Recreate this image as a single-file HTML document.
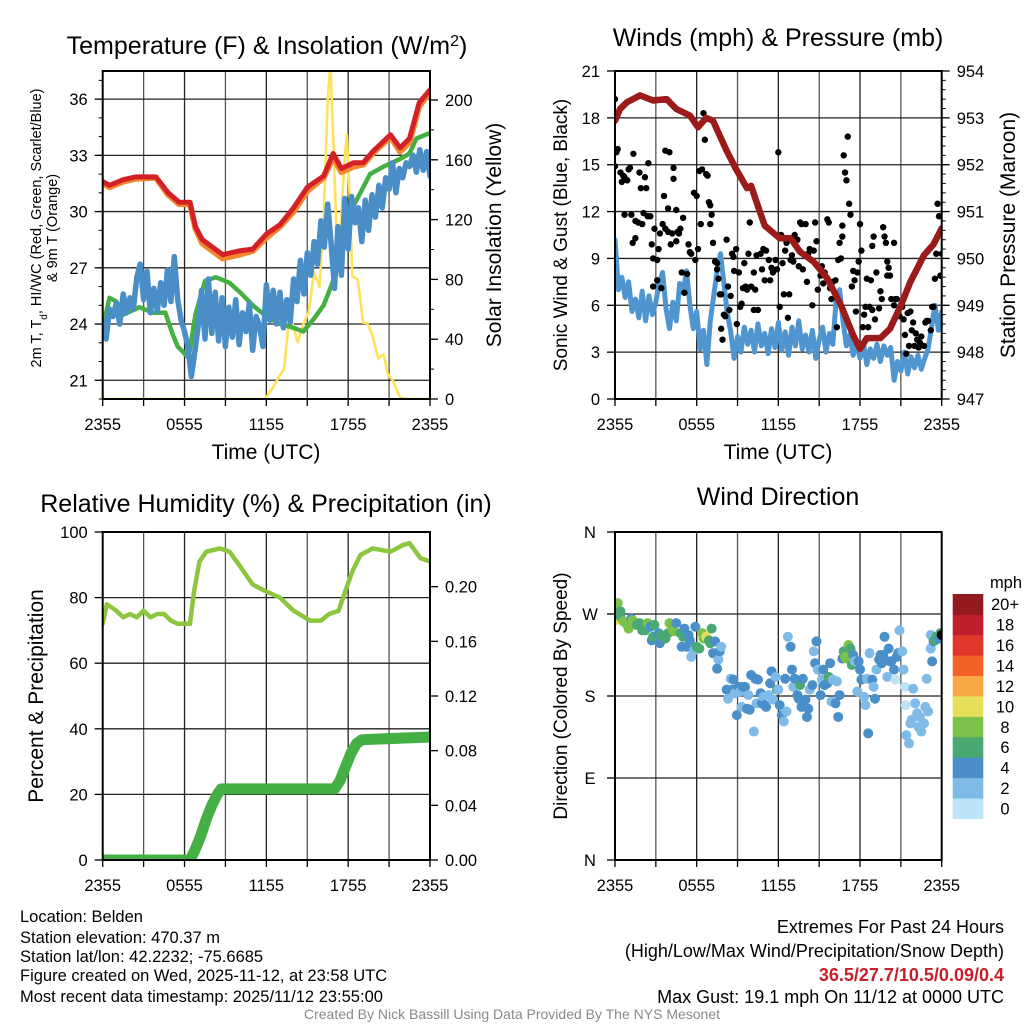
<!DOCTYPE html>
<html><head><meta charset="utf-8"><style>
html,body{margin:0;padding:0;background:#fff;}
svg{display:block;font-family:"Liberation Sans",Arial,sans-serif;}
</style></head><body>
<svg id="chart" width="1024" height="1024" viewBox="0 0 1024 1024" xmlns="http://www.w3.org/2000/svg">
<defs>
<clipPath id="c1"><rect x="102.7" y="71" width="327.3" height="328"/></clipPath>
<clipPath id="c2"><rect x="615" y="71" width="326.7" height="328"/></clipPath>
<clipPath id="c3"><rect x="102.7" y="532" width="327.3" height="328"/></clipPath>
<clipPath id="c4"><rect x="615" y="532" width="326.7" height="328"/></clipPath>
</defs>
<g id="layer"></g>
<text x="267" y="54" font-size="25" text-anchor="middle">Temperature (F) &amp; Insolation (W/m<tspan baseline-shift="super" font-size="16">2</tspan>)</text>
<text x="778" y="46" font-size="25" text-anchor="middle">Winds (mph) &amp; Pressure (mb)</text>
<text x="266" y="512" font-size="25" text-anchor="middle">Relative Humidity (%) &amp; Precipitation (in)</text>
<text x="778" y="505" font-size="25" text-anchor="middle">Wind Direction</text>
<text x="266" y="459" font-size="21" text-anchor="middle">Time (UTC)</text>
<text x="778" y="459" font-size="21" text-anchor="middle">Time (UTC)</text>
<text transform="translate(41,228) rotate(-90)" font-size="14.5" text-anchor="middle">2m T, T<tspan baseline-shift="sub" font-size="10">d</tspan>, HI/WC (Red, Green, Scarlet/Blue)</text>
<text transform="translate(57,228) rotate(-90)" font-size="14.5" text-anchor="middle">&amp; 9m T (Orange)</text>
<text transform="translate(501,235) rotate(-90)" font-size="21" text-anchor="middle">Solar Insolation (Yellow)</text>
<text transform="translate(567,235) rotate(-90)" font-size="19" text-anchor="middle">Sonic Wind &amp; Gust (Blue, Black)</text>
<text transform="translate(1015,235) rotate(-90)" font-size="21" text-anchor="middle">Station Pressure (Maroon)</text>
<text transform="translate(43,696) rotate(-90)" font-size="21" text-anchor="middle">Percent &amp; Precipitation</text>
<text transform="translate(567,696) rotate(-90)" font-size="19" text-anchor="middle">Direction (Colored By Speed)</text>
<g font-size="16.5">
<text x="20" y="922">Location: Belden</text>
<text x="20" y="943">Station elevation: 470.37 m</text>
<text x="20" y="962">Station lat/lon: 42.2232; -75.6685</text>
<text x="20" y="981">Figure created on Wed, 2025-11-12, at 23:58 UTC</text>
<text x="20" y="1002">Most recent data timestamp: 2025/11/12 23:55:00</text>
</g>
<g font-size="18" text-anchor="end">
<text x="1004" y="933">Extremes For Past 24 Hours</text>
<text x="1004" y="957">(High/Low/Max Wind/Precipitation/Snow Depth)</text>
<text x="1004" y="981" fill="#c8202a" font-weight="bold">36.5/27.7/10.5/0.09/0.4</text>
<text x="1004" y="1003">Max Gust: 19.1 mph On 11/12 at 0000 UTC</text>
</g>
<text x="512" y="1019" font-size="14" fill="#888" text-anchor="middle">Created By Nick Bassill Using Data Provided By The NYS Mesonet</text>
</svg>
<script>
// ---- Panel 1 data ----
const redHours=[0,0.5,1.5,2.4,3.9,4.8,5.6,6.4,6.8,7.3,8.8,10,11,12,13,14,15,16.2,16.9,17.5,18.4,19.1,19.8,21.1,21.8,22.5,23.2,24];
const redTemp=[31.6,31.4,31.7,31.85,31.85,31.0,30.5,30.5,29.2,28.5,27.7,27.9,28.0,28.8,29.3,30.2,31.3,31.9,33.1,32.3,32.6,32.6,33.2,34.1,33.4,33.9,35.8,36.5];
const orangeTemp=[31.5,31.3,31.6,31.75,31.8,30.9,30.4,30.4,29.1,28.3,27.5,27.7,27.9,28.6,29.2,30.0,31.1,31.8,32.9,32.1,32.4,32.5,33.1,34.0,33.2,33.7,35.6,36.4];
const greenHours=[0,0.5,1,1.5,2.7,3.7,4.6,5.1,5.5,6.3,6.8,7.5,8.3,9.3,10.2,11,12,13,14,14.7,15.4,16.2,16.9,17.4,18.4,19.6,20.6,21.8,22.5,23,24];
const greenTemp=[23.8,25.4,25.2,24.5,24.9,24.6,24.6,23.5,22.8,22.2,24.5,26.3,26.5,26.2,25.6,25.0,24.4,24.0,23.8,23.6,24.2,25.0,26.3,27.8,30.3,32.0,32.4,32.8,33.1,33.9,34.2];
const blueTemp=[24.2,23.2,24.8,24.4,25.1,24.0,25.6,24.6,25.4,24.8,26.5,27.2,25.3,26.8,24.6,25.9,24.7,26.2,25.0,26.9,25.2,27.6,25.3,24.2,23.6,22.8,21.2,22.5,23.9,25.8,23.2,26.4,23.5,25.7,23.1,25.4,22.8,24.9,23.3,25.3,22.9,24.6,23.6,25.1,22.6,24.4,23.9,22.8,26.1,24.2,25.8,24.0,25.7,23.8,25.3,24.1,26.4,25.2,27.4,25.6,27.8,26.6,28.4,27.2,29.5,28.1,30.4,28.3,25.9,29.2,26.6,30.7,28.0,30.8,29.4,30.2,28.4,30.6,29.0,30.9,29.7,31.4,30.2,31.8,31.2,32.6,31.0,32.3,31.8,32.6,32.4,33.0,32.1,33.3,32.2,33.2,31.9];
const solarHours=[0,11.9,12.5,13,13.3,13.7,14,14.3,14.7,15.1,15.5,15.9,16.2,16.5,16.7,16.9,17.2,17.4,17.7,17.9,18.1,18.3,18.7,19.1,19.4,19.8,20.2,20.6,20.9,21.3,21.8,22.1,24];
const solarWm2=[0,0,8,16,20,57,48,38,50,58,85,75,120,200,225,175,95,108,155,177,138,82,80,51,51,42,27,30,17,12,1,0,0];
const tempTicks=[21,24,27,30,33,36];
const solarTicks=[0,40,80,120,160,200];
const timeLabels=["2355","0555","1155","1755","2355"];
const timeLabelHours=[0,6,12,18,24];
// ---- Panel 2 data ----
const windMph=[10.2,7.0,7.8,6.5,7.5,5.6,6.4,5.2,6.9,5.0,6.6,5.4,6.2,7.4,8.1,5.8,4.5,6.2,5.0,7.4,6.8,8.2,6.0,4.5,5.6,3.2,4.4,2.2,5.0,6.6,8.2,9.3,7.4,5.5,4.3,2.6,4.0,3.0,4.6,3.5,4.4,3.0,4.8,3.4,4.2,2.9,4.5,3.3,4.9,3.1,4.3,2.8,4.6,3.4,5.0,3.2,4.1,3.0,4.4,2.6,3.8,4.6,3.0,4.2,3.5,6.4,7.0,5.0,3.4,4.1,2.8,3.6,2.6,3.6,2.2,3.2,2.6,3.5,2.4,3.4,2.8,3.3,1.2,2.4,1.8,3.0,1.6,2.7,2.0,2.8,1.9,2.6,3.2,4.6,6.0,4.4,5.6];
const gustHours=[0,0,0.1,0.2,0.4,0.5,0.6,0.7,0.7,0.9,1.0,1.1,1.2,1.3,1.35,1.5,1.5,1.7,1.8,1.9,2.0,2.1,2.2,2.3,2.4,2.45,2.6,2.7,2.8,2.8,2.9,3.1,3.1,3.2,3.3,3.4,3.5,3.6,3.7,3.7,3.9,3.9,4.0,4.1,4.2,4.3,4.3,4.5,4.5,4.6,4.7,4.8,4.9,5.0,5.1,5.3,5.4,5.5,5.6,5.8,5.9,6.0,6.1,6.2,6.3,6.4,6.5,6.6,6.7,6.8,6.9,7.0,7.0,7.1,7.2,7.35,7.5,7.5,7.6,7.7,7.8,7.8,7.9,8.0,8.1,8.2,8.3,8.4,8.5,8.6,8.7,8.75,8.9,8.95,9.1,9.2,9.3,9.4,9.5,9.6,9.7,9.8,9.9,10.0,10.2,10.2,10.3,10.4,10.5,10.7,10.8,10.9,11.0,11.1,11.3,11.4,11.5,11.6,11.8,11.9,12.0,12.1,12.2,12.3,12.4,12.5,12.6,12.7,12.8,12.9,13.0,13.1,13.2,13.4,13.5,13.6,13.7,13.8,14.0,14.1,14.2,14.3,14.5,14.6,14.7,14.8,14.9,15.1,15.2,15.3,15.4,15.6,15.7,15.8,15.9,16.0,16.2,16.3,16.4,16.5,16.6,16.7,16.7,16.8,16.9,17.0,17.1,17.2,17.3,17.4,17.5,17.6,17.7,17.8,17.9,18.0,18.1,18.2,18.3,18.4,18.5,18.6,18.7,18.8,18.9,18.9,19.0,19.1,19.2,19.4,19.5,19.6,19.7,19.8,19.9,20.0,20.0,20.1,20.2,20.3,20.5,20.5,20.6,20.7,20.8,20.9,21.1,21.2,21.3,21.4,21.5,21.6,21.7,21.8,21.9,22.0,22.1,22.2,22.3,22.4,22.5,22.7,22.8,22.9,23.0,23.2,23.3,23.4,23.5,23.6,23.7,23.8,23.9,24.0];
const gustMph=[19.2,14.9,15.8,16.0,14.5,13.9,14.3,11.8,14.2,14.0,14.7,14.8,11.8,10.0,15.7,11.4,10.3,11.3,14.5,13.5,11.2,11.9,14.2,13.5,11.7,15.1,11.7,9.9,9.0,7.2,10.9,7.6,8.9,9.6,10.6,7.1,11.2,13.0,10.9,15.9,12.2,10.7,15.8,9.9,10.6,14.1,14.8,12.1,10.1,10.7,10.6,10.9,8.1,11.6,6.8,8.0,9.9,9.4,9.3,13.2,8.9,13.0,9.6,14.6,11.2,14.7,18.3,16.6,14.4,14.3,12.6,11.2,12.4,11.8,10.0,8.8,8.7,8.3,7.7,6.7,6.7,4.5,3.8,5.4,5.3,10.2,7.2,5.7,6.6,9.3,9.1,8.2,9.6,4.8,8.1,5.9,6.1,7.1,8.7,7.2,7.0,9.3,11.3,7.2,8.1,5.7,7.0,9.2,5.7,9.3,8.3,9.6,7.6,9.5,8.9,7.6,8.4,8.1,8.9,8.3,15.8,5.9,10.5,8.7,6.7,9.5,10.0,5.2,6.7,8.9,9.2,8.8,10.5,10.2,8.5,11.3,11.2,8.3,11.2,7.5,9.3,9.6,6.0,9.5,11.3,10.1,7.0,7.9,8.5,7.4,8.1,11.5,11.3,7.1,6.4,7.5,7.6,4.6,8.9,10.0,9.0,11.1,10.4,15.6,14.5,14.0,16.8,12.5,11.8,7.2,8.2,7.6,5.6,8.1,8.8,11.2,9.5,4.6,5.4,5.9,7.7,4.6,5.9,7.6,5.7,9.8,10.4,5.1,8.1,5.8,6.9,6.4,11.0,10.4,10.0,8.8,7.9,8.4,7.9,6.4,10.0,6.0,6.4,6.4,5.5,5.3,5.9,5.1,4.1,2.9,5.5,3.4,5.6,4.4,4.9,3.4,4.2,3.8,3.3,3.6,4.0,3.4,4.9,5.0,5.0,4.4,5.9,5.9,7.7,9.3,12.5,11.7,7.9,9.3];
const pressHours=[0,0.37,0.86,1.84,2.8,3.8,4.5,5.5,6.1,6.7,7.2,8.2,8.9,9.7,10,10.4,11,12.1,12.9,13.6,14.6,15.6,16.6,17.5,18,18.5,19.5,20.2,21,21.7,22.7,23.4,24];
const pressMb=[952.94,953.19,953.33,953.48,953.37,953.4,953.19,953.05,952.8,953.0,952.94,952.3,951.9,951.5,951.55,951.2,950.7,950.43,950.43,950.14,949.93,949.57,949.0,948.36,948.07,948.3,948.3,948.5,949.0,949.5,950.07,950.3,950.64];
const windTicks=[0,3,6,9,12,15,18,21];
const pressTicks=[947,948,949,950,951,952,953,954];
// ---- Panel 3 data ----
const rhHours=[0,0.3,1,1.5,2,2.5,3,3.5,4,4.5,5,5.5,6,6.4,6.7,7.1,7.6,8.6,9.3,10,11,11.9,13,14,15.2,16,16.6,17.3,17.8,18.3,18.9,19.8,21.1,22,22.5,23.3,24];
const rhPct=[72,78,76,74,75,74,76,74,75,75,73,72,72,72,82,91,94,95,94,90,84,82,80,76,73,73,75,76,82,88,93,95,94,96,96.6,92,91];
const precipHours=[0,6.4,6.8,7.2,7.6,8.0,8.4,8.7,17,17.4,17.8,18.2,18.6,19,24];
const precipIn=[0,0,0.008,0.018,0.03,0.04,0.048,0.052,0.052,0.058,0.068,0.078,0.085,0.088,0.09];
const pctTicks=[0,20,40,60,80,100];
const precipTicks=["0.00","0.04","0.08","0.12","0.16","0.20"];
// ---- Panel 4 data ----
const dirHours=[0.0,0.1,0.2,0.4,0.0,0.4,0.6,0.9,1.0,1.2,1.3,1.6,1.8,2.0,2.2,2.4,2.6,2.7,2.8,2.9,3.2,3.3,3.4,3.7,3.9,4.0,4.2,4.3,4.5,4.8,4.9,5.0,5.1,5.3,5.4,5.5,5.6,5.8,5.9,6.0,6.2,6.4,6.5,6.7,6.9,7.0,7.1,7.2,7.35,7.5,7.6,7.7,7.8,7.5,8.2,8.3,8.5,8.6,8.7,8.8,8.95,9.1,9.2,9.3,9.4,9.55,9.7,9.8,9.9,10.0,10.2,10.3,10.4,10.5,10.7,10.8,10.9,11.0,11.1,11.3,11.4,11.5,11.6,11.8,11.9,12.0,12.1,12.25,12.4,12.5,12.6,12.7,12.9,13.0,13.1,13.2,13.4,13.5,13.6,13.7,13.8,14.0,14.1,14.2,14.3,14.5,14.6,14.7,14.8,14.9,15.1,15.2,15.3,15.4,15.6,15.7,15.8,15.9,16.0,16.2,16.3,16.4,16.5,16.7,16.8,16.9,17.0,17.15,17.3,17.4,17.5,17.6,17.8,17.9,18.0,18.1,18.3,18.4,18.5,18.6,18.7,18.9,19.0,19.1,19.2,19.4,19.5,19.6,19.7,19.8,20.0,20.1,20.2,20.3,20.5,20.6,20.7,20.8,20.9,21.1,21.2,21.3,21.35,21.4,21.6,21.7,21.8,21.9,22.05,22.2,22.3,22.4,22.5,22.7,22.8,22.9,23.0,23.2,23.2,23.3,23.4,23.5,23.6,23.8,23.9,24.0];
const dirDeg=[274,280,282,273,263,267,262,258,254,265,263,258,260,252,252,260,256,241,245,258,249,238,247,243,249,260,254,251,260,249,234,245,254,234,247,241,223,230,256,234,232,249,243,245,241,238,254,227,240,227,220,229,234,210,187,177,199,187,198,183,159,190,185,168,190,190,166,181,165,203,141,199,172,198,183,172,179,170,168,181,194,207,176,201,187,187,170,159,152,199,163,245,234,209,190,199,181,177,192,168,199,176,157,166,187,192,229,216,240,209,181,198,209,192,194,201,216,174,198,172,196,157,181,221,229,223,221,236,232,214,225,218,185,218,209,198,179,170,199,139,227,198,190,177,209,220,225,216,225,245,201,232,218,218,209,198,223,227,252,229,209,190,170,137,128,150,154,188,172,161,146,157,141,150,168,199,163,232,247,218,240,241,245,243,249,247];
const dirSpeed=[8.5,8.5,8.5,6.5,10.5,6.5,8.5,8.5,8.5,4.5,8.5,6.5,6.5,6.5,6.5,8.5,4.5,4.5,6.5,6.5,4.5,4.5,6.5,6.5,6.5,8.5,8.5,8.5,4.5,6.5,4.5,6.5,4.5,4.5,4.5,4.5,2.5,2.5,4.5,6.5,6.5,8.5,8.5,10.5,6.5,6.5,6.5,4.5,4.5,4.5,2.5,4.5,2.5,4.5,4.5,2.5,2.5,4.5,4.5,2.5,4.5,4.5,2.5,2.5,4.5,4.5,4.5,2.5,4.5,4.5,2.5,4.5,2.5,4.5,4.5,4.5,2.5,4.5,4.5,2.5,4.5,4.5,2.5,2.5,6.5,2.5,4.5,4.5,2.5,4.5,2.5,2.5,4.5,4.5,2.5,4.5,4.5,4.5,6.5,4.5,4.5,4.5,4.5,4.5,2.5,4.5,2.5,4.5,4.5,2.5,4.5,2.5,4.5,4.5,4.5,6.5,4.5,2.5,2.5,4.5,2.5,4.5,4.5,4.5,6.5,8.5,8.5,8.5,6.5,6.5,4.5,2.5,2.5,4.5,4.5,4.5,2.5,2.5,2.5,4.5,2.5,4.5,2.5,4.5,2.5,4.5,4.5,4.5,4.5,4.5,2.5,4.5,4.5,4.5,4.5,1,4.5,4.5,2.5,2.5,2.5,1,1,2.5,2.5,2.5,2.5,2.5,2.5,2.5,2.5,2.5,2.5,2.5,2.5,2.5,2.5,2.5,2.5,4.5,4.5,6.5,6.5,4.5,6.5];
const dirTickLabels=["N","E","S","W","N"];
const dirTickDeg=[0,90,180,270,360];
const colorbarLabels=["0","2","4","6","8","10","12","14","16","18","20+"];
const colorbarColors=["#bde3f7","#7fbbe6","#4a8fc9","#4aa873","#7cc24a","#e5e057","#f9a848","#f26228","#e0362c","#bf1e2d","#931a1e"];

const NS="http://www.w3.org/2000/svg";
const layer=document.getElementById('layer');
function mk(tag,attrs,parent){const e=document.createElementNS(NS,tag);for(const k in attrs)e.setAttribute(k,attrs[k]);(parent||layer).appendChild(e);return e;}
function txt(x,y,s,size,anchor,parent){const t=mk('text',{x:x,y:y,'font-size':size,'text-anchor':anchor},parent);t.textContent=s;return t;}

const P1={l:102.7,r:430,t:71,b:399};
const P2={l:615,r:941.7,t:71,b:399};
const P3={l:102.7,r:430,t:532,b:860};
const P4={l:615,r:941.7,t:532,b:860};
function xs(P){return h=>P.l+h/24*(P.r-P.l);}
function lin(d0,d1,r0,r1){return v=>r0+(v-d0)/(d1-d0)*(r1-r0);}
const x1=xs(P1),x2=xs(P2),x3=xs(P3),x4=xs(P4);
const yT=lin(20,37.5,399,71), yS=lin(0,219.4,399,71);
const yW=lin(0,21,399,71), yP=lin(947,954,399,71);
const yRH=lin(0,100,860,532), yPr=lin(0,0.24,860,532);
const yD=lin(0,360,860,532);
const TF=16.5;

function grid(P,xf,yVals,yf,name){
  const g=mk('g',{});
  
  
  for(let h=3;h<24;h+=3){const x=xf(h);mk('line',{x1:x,x2:x,y1:P.t,y2:P.b,stroke:(h%6==0)?'#222':'#555','stroke-width':1.3},g);}
  yVals.forEach(v=>{const y=yf(v);if(y>P.t+1&&y<P.b-1)mk('line',{x1:P.l,x2:P.r,y1:y,y2:y,stroke:'#222','stroke-width':1.3},g);});
}
function frame(P,name){
  const r=mk('rect',{x:P.l,y:P.t,width:P.r-P.l,height:P.b-P.t,fill:'none',stroke:'#000','stroke-width':2});
  
  
}
function xAxis(P,xf,name){
  const g=mk('g',{});
  
  
  for(let h=0;h<=24;h+=3){const x=xf(h);mk('line',{x1:x,x2:x,y1:P.b,y2:P.b+7,stroke:'#000','stroke-width':1.3},g);}
  timeLabels.forEach((s,i)=>{txt(xf(timeLabelHours[i]),P.b+31,s,TF,'middle',g);});
}
function yAxisLeft(P,vals,labels,yf,name,minorStep,lo,hi){
  const g=mk('g',{});
  
  
  vals.forEach((v,i)=>{const y=yf(v);mk('line',{x1:P.l-8,x2:P.l,y1:y,y2:y,stroke:'#000','stroke-width':1.3},g);txt(P.l-15,y+6,labels[i],TF,'end',g);});
  if(minorStep){for(let v=lo;v<=hi+1e-9;v+=minorStep){const y=yf(v);if(y>=P.t&&y<=P.b)mk('line',{x1:P.l-4,x2:P.l,y1:y,y2:y,stroke:'#000','stroke-width':1},g);}}
}
function yAxisRight(P,vals,labels,yf,name,minorStep,lo,hi){
  const g=mk('g',{});
  
  
  vals.forEach((v,i)=>{const y=yf(v);mk('line',{x1:P.r,x2:P.r+8,y1:y,y2:y,stroke:'#000','stroke-width':1.3},g);txt(P.r+15,y+6,labels[i],TF,'start',g);});
  if(minorStep){for(let v=lo;v<=hi+1e-9;v+=minorStep){const y=yf(v);if(y>=P.t&&y<=P.b)mk('line',{x1:P.r,x2:P.r+4,y1:y,y2:y,stroke:'#000','stroke-width':1},g);}}
}
function line(hours,vals,xf,yf,color,w,clip,name){
  const pts=hours.map((h,i)=>xf(h).toFixed(1)+','+yf(vals[i]).toFixed(1)).join(' ');
  const p=mk('polyline',{points:pts,fill:'none',stroke:color,'stroke-width':w,'stroke-linejoin':'round','stroke-linecap':'round','clip-path':'url(#'+clip+')'});
  
  
  return p;
}
const qHours=blueTemp.map((v,i)=>i*0.25);

grid(P1,x1,tempTicks,yT,'temperature');
line(solarHours,solarWm2,x1,yS,'#fde25a',2.6,'c1','solar-insolation-line');
line(greenHours,greenTemp,x1,yT,'#45b041',4.5,'c1','heat-index-line');
line(qHours,blueTemp,x1,yT,'#4a8ec8',5.5,'c1','dewpoint-line');
line(redHours,orangeTemp,x1,yT,'#f3862f',6,'c1','temp-9m-line');
line(redHours,redTemp,x1,yT,'#d42127',5,'c1','temp-2m-line');
frame(P1,'temperature');
xAxis(P1,x1,'temperature');
yAxisLeft(P1,tempTicks,tempTicks.map(String),yT,'temperature-y-axis',1,20,37);
yAxisRight(P1,solarTicks,solarTicks.map(String),yS,'solar-y-axis',20,0,219);

grid(P2,x2,windTicks,yW,'winds');
const wHours=windMph.map((v,i)=>i*0.25);
line(wHours,windMph,x2,yW,'#4f95d0',5,'c2','sonic-wind-line');
const gg=mk('g',{'clip-path':'url(#c2)'});


gustHours.forEach((h,i)=>{const c=mk('circle',{cx:x2(h),cy:yW(gustMph[i]),r:3.2,fill:'#000'},gg);

});
line(pressHours,pressMb,x2,yP,'#9b1b1b',6.5,'c2','pressure-line');
frame(P2,'winds');
xAxis(P2,x2,'winds');
yAxisLeft(P2,windTicks,windTicks.map(String),yW,'wind-y-axis',0,0,0);
yAxisRight(P2,pressTicks,pressTicks.map(String),yP,'pressure-y-axis',0.2,947,954);

grid(P3,x3,pctTicks,yRH,'humidity');
line(rhHours,rhPct,x3,yRH,'#8cc63f',4.5,'c3','relative-humidity-line');
line(precipHours,precipIn,x3,yPr,'#44b044',11,'c3','precipitation-line');
frame(P3,'humidity');
xAxis(P3,x3,'humidity');
yAxisLeft(P3,pctTicks,pctTicks.map(String),yRH,'percent-y-axis',0,0,0);
yAxisRight(P3,precipTicks.map(Number),precipTicks,yPr,'precip-y-axis',0,0,0);

grid(P4,x4,dirTickDeg,yD,'direction');
const dg=mk('g',{'clip-path':'url(#c4)'});


dirHours.forEach((h,i)=>{const idx=Math.min(10,Math.floor(dirSpeed[i]/2));
const c=mk('circle',{cx:x4(h),cy:yD(dirDeg[i]),r:5,fill:colorbarColors[idx]},dg);

});
frame(P4,'direction');
xAxis(P4,x4,'direction');
(function(){const g=mk('g',{});


dirTickDeg.forEach((d,i)=>{const y=yD(d);mk('line',{x1:P4.l-8,x2:P4.l,y1:y,y2:y,stroke:'#000','stroke-width':1.3},g);txt(P4.l-25,y+6,dirTickLabels[i],TF,'middle',g);});})();
(function(){const g=mk('g',{});


const top=594,bot=818.7,h=(bot-top)/11;
colorbarColors.forEach((c,i)=>{const y=bot-(i+1)*h;const r=mk('rect',{x:952.7,y:y,width:30.6,height:h+0.3,fill:c},g);


txt(1005,y+h/2+6,colorbarLabels[i],TF,'middle',g);});
txt(1006,588,'mph',TF,'middle',g);})();
</script>
</body></html>
